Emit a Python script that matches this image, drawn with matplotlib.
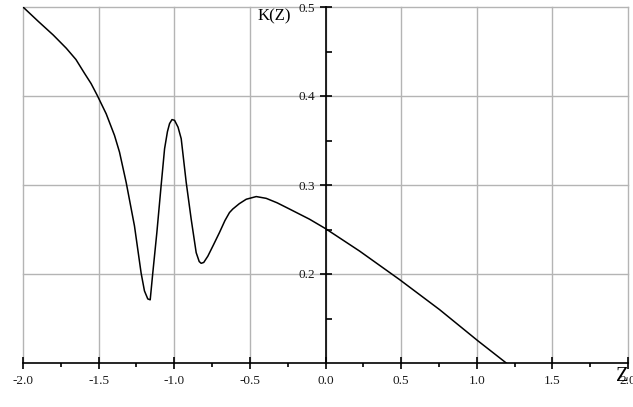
import matplotlib
matplotlib.use('Agg')
import matplotlib.pyplot as plt
import numpy as np

# K(Z) curve
z = [-2.0, -1.9, -1.8, -1.714, -1.65, -1.593, -1.55, -1.51, -1.45, -1.395,
     -1.362, -1.318, -1.263, -1.219, -1.197, -1.175, -1.159, -1.142, -1.115, -1.087,
     -1.064, -1.045, -1.031, -1.015, -0.998, -0.975, -0.954, -0.921, -0.888, -0.855,
     -0.835, -0.822, -0.805, -0.778, -0.74, -0.701, -0.665, -0.635, -0.613, -0.57,
     -0.524, -0.458, -0.392, -0.32, -0.238, -0.106, 0.0, 0.225, 0.489, 0.754,
     1.007, 1.195, 1.25]
k = [0.500, 0.484, 0.4685, 0.4537, 0.441, 0.4254, 0.414, 0.401, 0.380, 0.3557,
     0.337, 0.303, 0.254, 0.201, 0.181, 0.172, 0.171, 0.201, 0.2466, 0.299,
     0.3407, 0.360, 0.369, 0.3735, 0.3727, 0.365, 0.352, 0.303, 0.2616, 0.224,
     0.214, 0.212, 0.213, 0.220, 0.233, 0.2466, 0.260, 0.269, 0.273, 0.279,
     0.284, 0.287, 0.285, 0.280, 0.273, 0.2616, 0.251, 0.2258, 0.1938, 0.160,
     0.125, 0.100, 0.093]

xticks = [-2.0, -1.5, -1.0, -0.5, 0.0, 0.5, 1.0, 1.5, 2.0]
yticks = [0.2, 0.3, 0.4, 0.5]

fig = plt.figure(figsize=(6.33, 4.07), dpi=100)
ax = fig.add_axes([23/633, 44/407, 605/633, 356/407])

ax.plot(z, k, color='black', lw=1.1)
ax.set_xlim(-2.0, 2.0)
ax.set_ylim(0.1, 0.5)

ax.set_xticks(xticks)
ax.set_yticks(yticks)
ax.set_xticks(np.arange(-1.75, 2.0, 0.5), minor=True)
ax.set_yticks([0.15, 0.25, 0.35, 0.45], minor=True)
ax.set_xticklabels(['%.1f' % v for v in xticks])
ax.set_yticklabels(['%.1f' % v for v in yticks])

for v in xticks:
    ax.axvline(v, color='#b4b4b4', lw=1.0, zorder=0, clip_on=False)
for v in yticks:
    ax.axhline(v, color='#b4b4b4', lw=1.0, zorder=0, clip_on=False)

for s in ['left', 'right', 'top']:
    ax.spines[s].set_visible(False)
ax.spines['left'].set_visible(True)
ax.spines['left'].set_position(('data', 0.0))
ax.spines['left'].set_linewidth(1.2)
ax.spines['bottom'].set_linewidth(1.2)

ax.tick_params(axis='x', which='major', direction='inout', length=9, width=1.2,
               pad=4, labelsize=9.5, labelcolor='#1a1a1a')
ax.tick_params(axis='x', which='minor', direction='out', length=3, width=1.2)
ax.tick_params(axis='y', which='major', direction='inout', length=9, width=1.2,
               pad=3, labelsize=9.5, labelcolor='#1a1a1a')
ax.tick_params(axis='y', which='minor', direction='in', length=4, width=1.2)
for lab in ax.get_xticklabels() + ax.get_yticklabels():
    lab.set_family('Liberation Serif')

ax.text(-0.45, 0.49, 'K(Z)', family='Liberation Serif', fontsize=12,
        ha='left', va='center')
ax.text(1.96, 0.085, 'Z', family='Liberation Serif', fontsize=15,
        ha='center', va='center', clip_on=False)

fig.savefig('out.png', dpi=100)
